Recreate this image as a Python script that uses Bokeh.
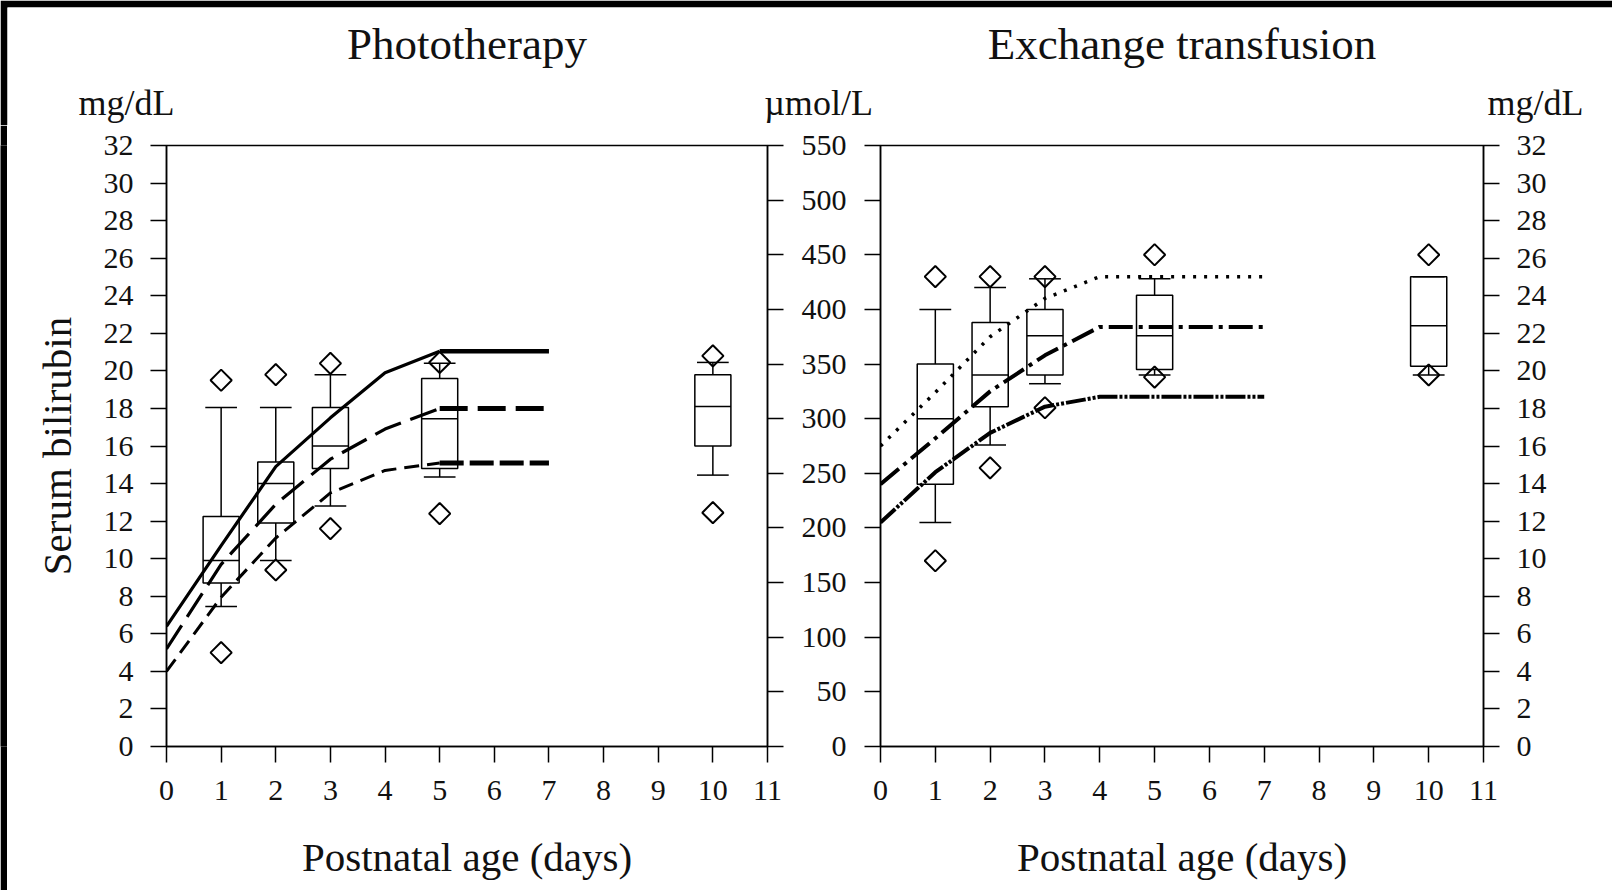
import math
from bokeh.plotting import figure
from bokeh.models import Range1d, LinearAxis, FixedTicker, Label
from bokeh.layouts import row, column
from bokeh.embed import file_html
from bokeh.resources import INLINE

# ---------------- data ----------------
days = [0, 1, 2, 3, 4, 5, 6, 7]

# Phototherapy thresholds (mg/dL)
pt_solid = [6.4, 10.7, 14.9, 17.5, 19.9, 21.05, 21.05, 21.05]
pt_longdash = [5.2, 9.7, 12.9, 15.3, 16.9, 18.0, 18.0, 18.0]
pt_shortdash = [4.0, 7.95, 11.1, 13.5, 14.7, 15.1, 15.1, 15.1]

# Exchange transfusion thresholds (umol/L)
et_dotted = [275, 324, 375, 410, 430, 430, 430, 430]
et_dashdot = [240, 282, 325, 358, 384, 384, 384, 384]
et_dashdotdot = [205, 251, 287, 311, 320, 320, 320, 320]

box_days = [1, 2, 3, 5, 10]

# Phototherapy box plots (mg/dL)
pt_lo_whisk = [7.45, 9.9, 12.8, 14.35, 14.45]
pt_q1 = [8.7, 11.9, 14.8, 14.8, 16.0]
pt_med = [9.9, 14.0, 16.0, 17.45, 18.1]
pt_q3 = [12.25, 15.15, 18.05, 19.6, 19.8]
pt_hi_whisk = [18.05, 18.05, 19.8, 20.4, 20.45]
pt_out_hi = [19.5, 19.8, 20.4, 20.45, 20.8]
pt_out_lo = [5.0, 9.4, 11.6, 12.4, 12.45]

# Exchange transfusion box plots (umol/L)
et_lo_whisk = [205, 276, 332, 340, 340]
et_q1 = [240, 311, 340, 345, 348]
et_med = [300, 340, 376, 376, 385]
et_q3 = [350, 388, 400, 413, 430]
et_hi_whisk = [400, 420, 428, 428, 430]
et_out_hi = [430, 430, 430, 450, 450]
et_out_lo = [170, 255, 310, 338, 340]

x_ticks = list(range(0, 12))
mg_ticks = list(range(0, 33, 2))
umol_ticks = list(range(0, 551, 50))

titles = ["Phototherapy", "Exchange transfusion"]
x_title = "Postnatal age (days)"
y_title = "Serum bilirubin"
unit_mg = "mg/dL"
unit_umol = "\u00b5mol/L"

FONT = "Liberation Serif"
INK = "#111111"
BOX_W = 0.66
CAP_W = 0.58
PANEL_H = 765
PAGE_W = 1612


def style_axis(ax, standoff):
    ax.axis_line_color = "black"
    ax.axis_line_width = 1.5
    ax.major_tick_line_color = "black"
    ax.major_tick_line_width = 1.5
    ax.major_tick_out = 16
    ax.major_tick_in = 0
    ax.minor_tick_line_color = None
    ax.major_label_text_font = FONT
    ax.major_label_text_font_size = "30px"
    ax.major_label_text_color = INK
    ax.major_label_standoff = standoff
    ax.axis_label_text_font = FONT
    ax.axis_label_text_font_style = "normal"
    ax.axis_label_text_color = INK
    ax.axis_label_text_font_size = "41px"


def base_fig(width, left, right, ymax):
    p = figure(width=width, height=PANEL_H, x_range=Range1d(0, 11), y_range=Range1d(0, ymax),
               output_backend="svg", toolbar_location=None, title_location=None,
               min_border_left=left, min_border_right=right,
               min_border_top=20, min_border_bottom=PANEL_H - 621,
               x_axis_location=None, y_axis_location=None)
    for g in p.grid:
        g.visible = False
    p.outline_line_color = "black"
    p.outline_line_width = 1.5
    p.background_fill_color = "white"
    p.border_fill_color = "white"
    xa = LinearAxis(ticker=FixedTicker(ticks=x_ticks), axis_label=x_title)
    style_axis(xa, 18)
    xa.axis_label_standoff = 31
    p.add_layout(xa, "below")
    return p


def draw_boxes(p, lo, q1, med, q3, hi, out_hi, out_lo):
    p.vbar(x=box_days, width=BOX_W, bottom=q1, top=q3, fill_color="white",
           line_color="black", line_width=1.5)
    p.segment(x0=box_days, y0=q3, x1=box_days, y1=hi, line_color="black", line_width=1.5)
    p.segment(x0=box_days, y0=lo, x1=box_days, y1=q1, line_color="black", line_width=1.5)
    p.segment(x0=[d - CAP_W / 2 for d in box_days], y0=hi,
              x1=[d + CAP_W / 2 for d in box_days], y1=hi, line_color="black", line_width=1.5)
    p.segment(x0=[d - CAP_W / 2 for d in box_days], y0=lo,
              x1=[d + CAP_W / 2 for d in box_days], y1=lo, line_color="black", line_width=1.5)
    p.segment(x0=[d - BOX_W / 2 for d in box_days], y0=med,
              x1=[d + BOX_W / 2 for d in box_days], y1=med, line_color="black", line_width=1.5)
    for ys in (out_hi, out_lo):
        p.scatter(x=box_days, y=ys, marker="square", size=15, angle=math.pi / 4,
                  fill_color=None, line_color="black", line_width=2)


# ---------------- header (titles + units) ----------------
hdr = figure(width=PAGE_W, height=125, x_range=Range1d(7, PAGE_W), y_range=Range1d(125, 7),
             output_backend="svg", toolbar_location=None, title_location=None,
             min_border_left=7, min_border_top=7, min_border_right=0, min_border_bottom=0,
             x_axis_location=None, y_axis_location=None)
for g in hdr.grid:
    g.visible = False
hdr.outline_line_color = None
hdr.border_fill_color = "black"
hdr.background_fill_color = "white"


def head_text(x, y, t, size):
    hdr.add_layout(Label(x=x, y=y, text=t, text_font=FONT, text_font_size=size,
                         text_align="center", text_baseline="alphabetic", text_color=INK))


head_text(466.5, 43, titles[0], "45px")
head_text(1181.5, 43, titles[1], "45px")
head_text(126, 102, unit_mg, "36px")
head_text(818, 102, unit_umol, "36px")
head_text(1535, 102, unit_mg, "36px")

# ---------------- left black strip ----------------
strip = figure(width=7, height=PANEL_H, output_backend="svg", toolbar_location=None,
               title_location=None, min_border=0, x_axis_location=None, y_axis_location=None)
for g in strip.grid:
    g.visible = False
strip.outline_line_color = None
strip.border_fill_color = "black"
strip.background_fill_color = "black"

# ---------------- Phototherapy ----------------
p1 = base_fig(783, 159, 23, 32)
p1.extra_y_ranges = {"umol": Range1d(0, 550)}
ya = LinearAxis(ticker=FixedTicker(ticks=mg_ticks), axis_label=y_title)
style_axis(ya, 17)
ya.axis_label_standoff = 21
p1.add_layout(ya, "left")
yr = LinearAxis(y_range_name="umol", ticker=FixedTicker(ticks=umol_ticks),
                major_label_overrides={t: "" for t in umol_ticks})
style_axis(yr, 0)
p1.add_layout(yr, "right")

draw_boxes(p1, pt_lo_whisk, pt_q1, pt_med, pt_q3, pt_hi_whisk, pt_out_hi, pt_out_lo)

p1.line(days[:6], pt_solid[:6], line_color="black", line_width=3.2)
p1.line(days[5:], pt_solid[5:], line_color="black", line_width=4.5)
p1.line(days[:6], pt_longdash[:6], line_color="black", line_width=3.2, line_dash="28 10")
p1.line(days[5:], pt_longdash[5:], line_color="black", line_width=5, line_dash="28 10")
p1.line(days[:6], pt_shortdash[:6], line_color="black", line_width=3, line_dash="15 8")
p1.line(days[5:], pt_shortdash[5:], line_color="black", line_width=5, line_dash="24 6")

# ---------------- Exchange transfusion ----------------
p2 = base_fig(PAGE_W - 790, 90, PAGE_W - 790 - 90 - 603, 550)
p2.extra_y_ranges = {"mg": Range1d(0, 32)}
yl = LinearAxis(ticker=FixedTicker(ticks=umol_ticks))
style_axis(yl, 18)
p2.add_layout(yl, "left")
yr2 = LinearAxis(y_range_name="mg", ticker=FixedTicker(ticks=mg_ticks))
style_axis(yr2, 17)
p2.add_layout(yr2, "right")

draw_boxes(p2, et_lo_whisk, et_q1, et_med, et_q3, et_hi_whisk, et_out_hi, et_out_lo)

p2.line(days, et_dotted, line_color="black", line_width=3.5, line_dash="3 8")
p2.line(days, et_dashdot, line_color="black", line_width=4, line_dash="24 6 4 6")
p2.line(days, et_dashdotdot, line_color="black", line_width=4, line_dash="20 2 3 2 3 2")

layout = column(hdr, row(strip, p1, p2))

open("out.html", "w").write(file_html(layout, INLINE))
